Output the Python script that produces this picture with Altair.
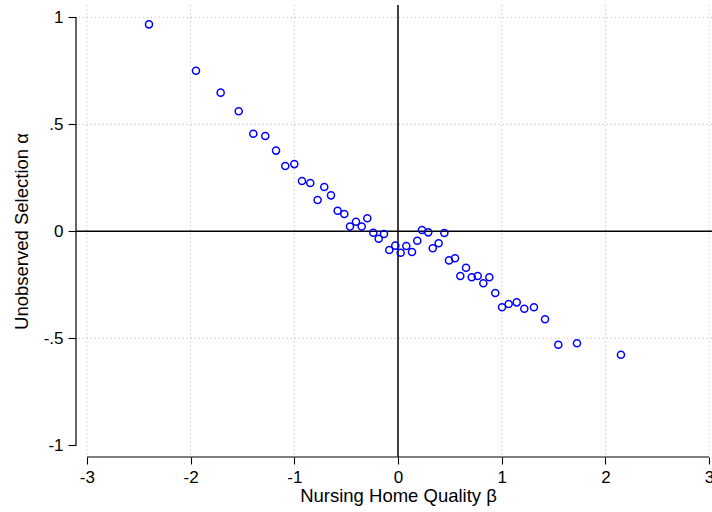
import altair as alt
import pandas as pd

# Estimated nursing-home effects: quality (beta) vs. unobserved selection (alpha)
beta = [-2.401, -1.948, -1.710, -1.536, -1.395, -1.280, -1.176, -1.087, -1.000,
        -0.926, -0.846, -0.775, -0.711, -0.646, -0.582, -0.518, -0.463, -0.405,
        -0.350, -0.296, -0.238, -0.186, -0.135, -0.084, -0.026, 0.026, 0.080,
        0.135, 0.186, 0.231, 0.292, 0.335, 0.392, 0.447, 0.492, 0.550, 0.601,
        0.656, 0.711, 0.769, 0.823, 0.881, 0.938, 1.003, 1.067, 1.145, 1.218,
        1.311, 1.418, 1.546, 1.726, 2.150]
alpha = [0.967, 0.750, 0.648, 0.561, 0.456, 0.445, 0.377, 0.305, 0.314,
         0.235, 0.226, 0.146, 0.207, 0.168, 0.096, 0.081, 0.022, 0.045,
         0.022, 0.061, -0.007, -0.035, -0.013, -0.087, -0.067, -0.100, -0.069,
         -0.097, -0.044, 0.006, -0.005, -0.079, -0.056, -0.008, -0.136, -0.126, -0.209,
         -0.170, -0.215, -0.209, -0.243, -0.215, -0.288, -0.355, -0.340, -0.332, -0.362,
         -0.355, -0.411, -0.530, -0.523, -0.577]

x_ticks = [-3, -2, -1, 0, 1, 2, 3]
y_ticks = [-1, -0.5, 0, 0.5, 1]
x_grid = [-3, -2, -1, 1, 2, 3]
y_grid = [-0.5, 0.5, 1]

X_DOMAIN = [-3.105, 3.028]
Y_DOMAIN = [-1.0547, 1.0575]

PLOT_W = 636
PLOT_H = 452
FONT = "Liberation Sans"

points = pd.DataFrame({"beta": beta, "alpha": alpha})

xs = alt.Scale(domain=X_DOMAIN, nice=False, zero=False)
ys = alt.Scale(domain=Y_DOMAIN, nice=False, zero=False)

# plain-hyphen labels, with leading zeros dropped (".5", "-.5")
LABEL_EXPR = "replace(replace(toString(datum.value), '0.', '.'), '-.', '-.')"

x_axis = alt.Axis(
    values=x_ticks, title="Nursing Home Quality β", grid=False, domain=False,
    tickColor="black", tickSize=7, tickWidth=1.1,
    labelFont=FONT, labelFontSize=17, labelColor="black", labelPadding=5,
    labelFlush=False, labelOverlap=False,
    labelExpr="toString(datum.value)",
    titleFont=FONT, titleFontSize=18.5, titleFontWeight="normal", titleColor="black",
    titleX=322, titleY=44.7, titleBaseline="alphabetic",
)
y_axis = alt.Axis(
    values=y_ticks, title="Unobserved Selection α", grid=False, domain=False,
    tickColor="black", tickSize=8, tickWidth=1.1,
    labelFont=FONT, labelFontSize=17, labelColor="black", labelPadding=5,
    labelFlush=False, labelOverlap=False,
    labelExpr=LABEL_EXPR,
    titleFont=FONT, titleFontSize=18.5, titleFontWeight="normal", titleColor="black",
    titleX=-49, titleBaseline="alphabetic",
)

# dotted grid lines
vgrid = alt.Chart(pd.DataFrame({"beta": x_grid})).mark_rule(
    color="#c4c4c4", strokeDash=[1.2, 2.8], strokeWidth=1
).encode(x=alt.X("beta:Q", scale=xs, axis=x_axis))

hgrid = alt.Chart(pd.DataFrame({"alpha": y_grid})).mark_rule(
    color="#c4c4c4", strokeDash=[1.2, 2.8], strokeWidth=1
).encode(y=alt.Y("alpha:Q", scale=ys, axis=y_axis))

# solid reference lines through zero
vzero = alt.Chart(pd.DataFrame({"beta": [0]})).mark_rule(
    color="black", strokeWidth=1.5
).encode(x=alt.X("beta:Q", scale=xs, axis=x_axis))

hzero = alt.Chart(pd.DataFrame({"alpha": [0]})).mark_rule(
    color="black", strokeWidth=1.5
).encode(y=alt.Y("alpha:Q", scale=ys, axis=y_axis))

# axis lines spanning only the labelled range
bottom_line = alt.Chart(
    pd.DataFrame({"beta": [min(x_ticks)], "beta2": [max(x_ticks)]})
).mark_rule(color="black", strokeWidth=1.2).encode(
    x=alt.X("beta:Q", scale=xs, axis=x_axis),
    x2="beta2:Q",
    y=alt.value(PLOT_H),
)

left_line = alt.Chart(
    pd.DataFrame({"alpha": [min(y_ticks)], "alpha2": [max(y_ticks)]})
).mark_rule(color="black", strokeWidth=1.2).encode(
    y=alt.Y("alpha:Q", scale=ys, axis=y_axis),
    y2="alpha2:Q",
    x=alt.value(0),
)

scatter = alt.Chart(points).mark_point(
    shape="circle", filled=False, size=50, strokeWidth=1.5, color="#0000ff", opacity=1
).encode(
    x=alt.X("beta:Q", scale=xs, axis=x_axis),
    y=alt.Y("alpha:Q", scale=ys, axis=y_axis),
)

chart = alt.layer(
    vgrid, hgrid, vzero, hzero, bottom_line, left_line, scatter
).properties(
    width=PLOT_W,
    height=PLOT_H,
    autosize=alt.AutoSizeParams(type="none"),
    padding={"left": 76, "top": 5, "right": 0, "bottom": 55},
    background="white",
).configure_view(stroke=None)

chart.save("out.html", embed_options={"renderer": "svg", "actions": False})
